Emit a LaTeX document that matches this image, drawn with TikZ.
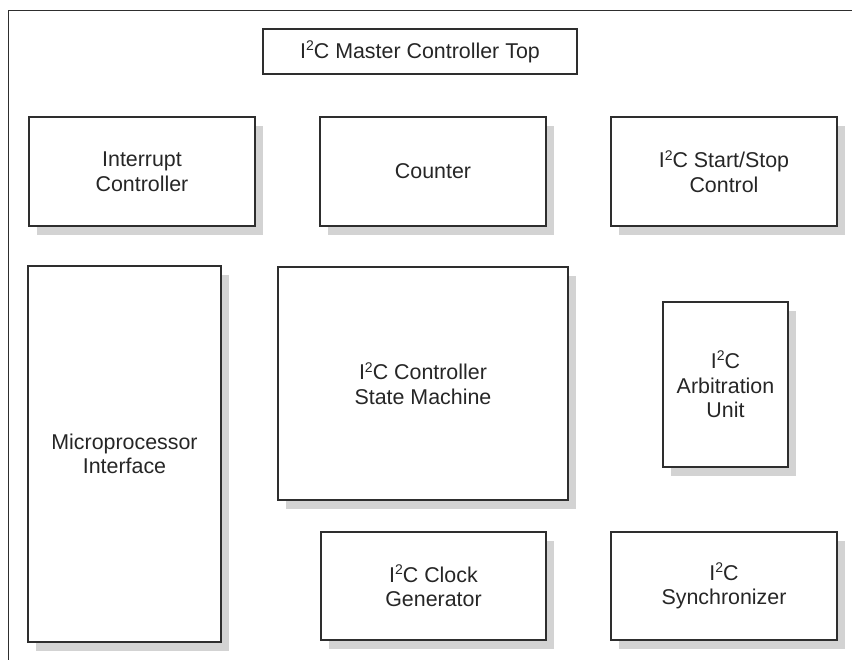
\documentclass[tikz,border=0pt]{standalone}
\usepackage{fontspec}
\setmainfont{Liberation Sans}
\usetikzlibrary{backgrounds}
\definecolor{edge}{HTML}{2E2E2E}
\definecolor{shade}{HTML}{D3D3D3}
\tikzset{
  blk/.style={draw=edge, line width=1.6pt, fill=white, inner sep=0pt, outer sep=0pt,
    align=center, font=\fontsize{21.4}{24.5}\selectfont, text=black!85},
  shadowbox/.style={fill=shade}
}
\newcommand{\IIC}{I\raisebox{0.36em}{\fontsize{14}{14}\selectfont 2}C}
\begin{document}
\begin{tikzpicture}[x=1pt,y=-1pt]
\useasboundingbox (0,0) rectangle (852,660);
\begin{scope}
\clip (0,0) rectangle (852,660);
\draw[edge, line width=1.6pt] (8.5,10.5) rectangle (880,700);
\end{scope}
\node[blk, minimum width=314pt, minimum height=45pt] (top) at (420,51.5) {\IIC{} Master Controller Top};
\node[blk, minimum width=226pt, minimum height=109pt] (int) at (142,171.5) {Interrupt\\Controller};
\node[blk, minimum width=226pt, minimum height=109pt] (cnt) at (433,171.5) {Counter};
\node[blk, minimum width=226pt, minimum height=109pt] (ss) at (724,171.5) {\IIC{} Start/Stop\\Control};
\node[blk, minimum width=193pt, minimum height=376pt] (mp) at (124.5,454) {Microprocessor\\Interface};
\node[blk, minimum width=290pt, minimum height=233pt] (sm) at (423,383.5) {\IIC{} Controller\\State Machine};
\node[blk, minimum width=125pt, minimum height=165pt] (arb) at (725.5,384.5) {\IIC{}\\Arbitration\\Unit};
\node[blk, minimum width=225pt, minimum height=108pt] (clk) at (433.5,586) {\IIC{} Clock\\Generator};
\node[blk, minimum width=226pt, minimum height=108pt] (syn) at (724,586) {\IIC{}\\Synchronizer};
\begin{scope}[on background layer]
\foreach \n in {int,cnt,ss,mp,sm,arb,clk,syn}{
  \fill[shadowbox] ([shift={(8pt,-9pt)}]\n.south west) rectangle ([shift={(8pt,-9pt)}]\n.north east);
}
\end{scope}
\end{tikzpicture}
\end{document}
